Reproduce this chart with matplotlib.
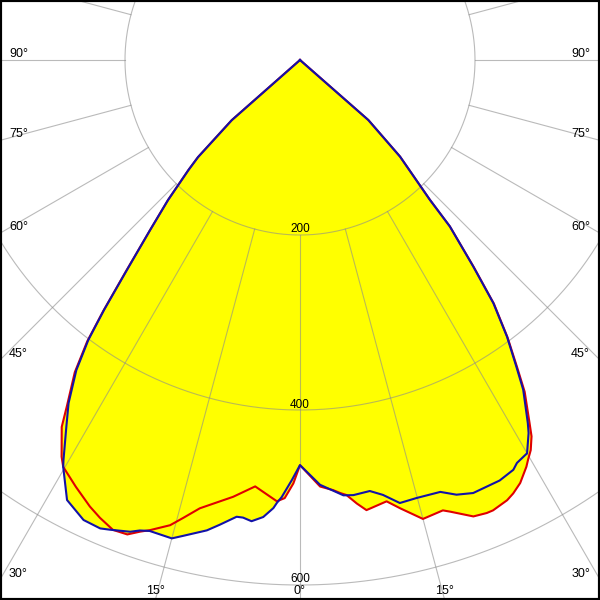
import numpy as np
import matplotlib
matplotlib.use("Agg")
import matplotlib.pyplot as plt

plt.rcParams['font.family'] = ['Liberation Sans', 'DejaVu Sans']

# polar intensity curves (cd), gamma in degrees from nadir
# red curve, left half
red_left_deg = [0, 0.9, 2.0, 3.0, 6.0, 8.7, 12.6, 14.3, 15.6, 17.7, 18.7, 20.0, 21.7, 23.6,
                25.2, 27.7, 30.2, 31.0, 33.0, 34.0, 35.8, 37.1, 38.1, 39.5, 41.4, 43.3,
                45.4, 46.4, 48.6, 50]
red_left_cd = [463, 484, 501, 505, 490, 505, 525, 540, 552, 564, 569, 577, 578, 571,
               564, 551, 538, 529, 500, 476, 440, 403, 364, 312, 259, 220,
               179, 161, 104, 0]
# red curve, right half
red_right_deg = [0, 2.7, 4.4, 5.3, 6.1, 7.3, 8.4, 11.1, 12.6, 15.0, 17.6, 18.4, 20.8, 22.4,
                 23.2, 25.2, 26.2, 27.5, 29.1, 29.7, 30.6, 31.6, 32.3, 34.1, 35.2, 36.8,
                 38.5, 40.0, 42.0, 42.9, 46.0, 48.7, 50]
red_right_cd = [463, 488, 493, 497, 500, 511, 520, 514, 525, 543, 540, 544, 558, 560,
                560, 556, 552, 545, 532, 526, 518, 505, 491, 458, 431, 396,
                356, 309, 256, 218, 159, 104, 0]
# blue curve, left half
blue_left_deg = [0, 1.1, 2.4, 3.0, 3.4, 4.6, 6.0, 7.1, 7.9, 9.8, 11.2, 13.8, 15.0, 17.7,
                 18.8, 19.8, 22.0, 23.1, 25.2, 27.9, 30.2, 30.6, 32.5, 34.0, 35.8, 37.1,
                 38.1, 39.5, 41.4, 43.3, 45.4, 46.4, 48.6, 50]
blue_left_cd = [463, 480, 500, 507, 513, 524, 530, 527, 527, 539, 548, 560, 566, 565,
                568, 573, 579, 582, 581, 569, 538, 531, 497, 473, 437, 401,
                363, 311, 259, 220, 179, 161, 104, 0]
# blue curve, right half
blue_right_deg = [0, 2.7, 5.7, 7.0, 9.2, 10.8, 12.7, 14.9, 18.0, 19.8, 21.8, 25.4, 27.5,
                  28.3, 30.0, 31.5, 32.1, 34.1, 35.2, 36.8, 38.5, 40.0, 42.0, 42.9,
                  46.0, 48.7, 50]
blue_right_cd = [463, 486, 500, 501, 499, 506, 519, 518, 519, 528, 533, 532, 528,
                 523, 519, 500, 490, 455, 429, 395, 355, 308, 256, 218,
                 159, 104, 0]

rings = [200, 400, 600]
ring_labels = ['200', '400', '600']
side_angles = [30, 45, 60, 75, 90]
bottom_angles = [0, 15]

px = 200 / 175.0          # cd per pixel
xmax = 300 * px
ytop = 60 * px
ybot = -540 * px


def to_xy(deg, cd, side):
    g = np.radians(np.array(deg, dtype=float))
    cd = np.array(cd, dtype=float)
    return side * cd * np.sin(g), -cd * np.cos(g)


def outline(ldeg, lcd, rdeg, rcd):
    xl, yl = to_xy(ldeg, lcd, -1)
    xr, yr = to_xy(rdeg, rcd, 1)
    return np.concatenate([xl[::-1], xr[1:]]), np.concatenate([yl[::-1], yr[1:]])


fig = plt.figure(figsize=(6, 6), dpi=100)
ax = fig.add_axes([0, 0, 1, 1])
ax.set_xlim(-xmax, xmax)
ax.set_ylim(ybot, ytop)

xr_, yr_ = outline(red_left_deg, red_left_cd, red_right_deg, red_right_cd)
xb_, yb_ = outline(blue_left_deg, blue_left_cd, blue_right_deg, blue_right_cd)

# yellow area (union of both curves)
ax.fill(xr_, yr_, color='#ffff00', lw=0, zorder=1)
ax.fill(xb_, yb_, color='#ffff00', lw=0, zorder=1)

# grid
t = np.linspace(0, 2 * np.pi, 721)
for r in rings:
    ax.plot(r * np.sin(t), r * np.cos(t), color='#8c8c8c', alpha=0.6, lw=0.8, zorder=2)
for a in range(0, 360, 15):
    g = np.radians(a)
    ax.plot([200 * np.sin(g), 2000 * np.sin(g)], [-200 * np.cos(g), -2000 * np.cos(g)],
            color='#8c8c8c', alpha=0.6, lw=0.8, zorder=2)

ax.plot(xr_, yr_, color='#e00000', lw=1.5, zorder=3)
ax.plot(xb_, yb_, color='#1212a8', lw=1.5, zorder=4)

# labels
for r, lbl in zip(rings, ring_labels):
    ax.text(0, -r + 2.5 * px, lbl, ha='center', va='baseline', fontsize=8.5, zorder=5)

for a in side_angles:
    y = 0 if a == 90 else -xmax / np.tan(np.radians(a))
    ax.text(-xmax + 9 * px, y + 3 * px, f'{a}°', ha='left', va='baseline', fontsize=9, zorder=5)
    ax.text(xmax - 10 * px, y + 3 * px, f'{a}°', ha='right', va='baseline', fontsize=9, zorder=5)

for a in bottom_angles:
    x = -ybot * np.tan(np.radians(a))
    for s in ([1] if a == 0 else [-1, 1]):
        ax.text(s * x, ybot + 6 * px, f'{a}°', ha='center', va='baseline', fontsize=9, zorder=5)

ax.set_xticks([])
ax.set_yticks([])
for sp in ax.spines.values():
    sp.set_color('black')
    sp.set_linewidth(3)

fig.savefig('out.png', dpi=100)
